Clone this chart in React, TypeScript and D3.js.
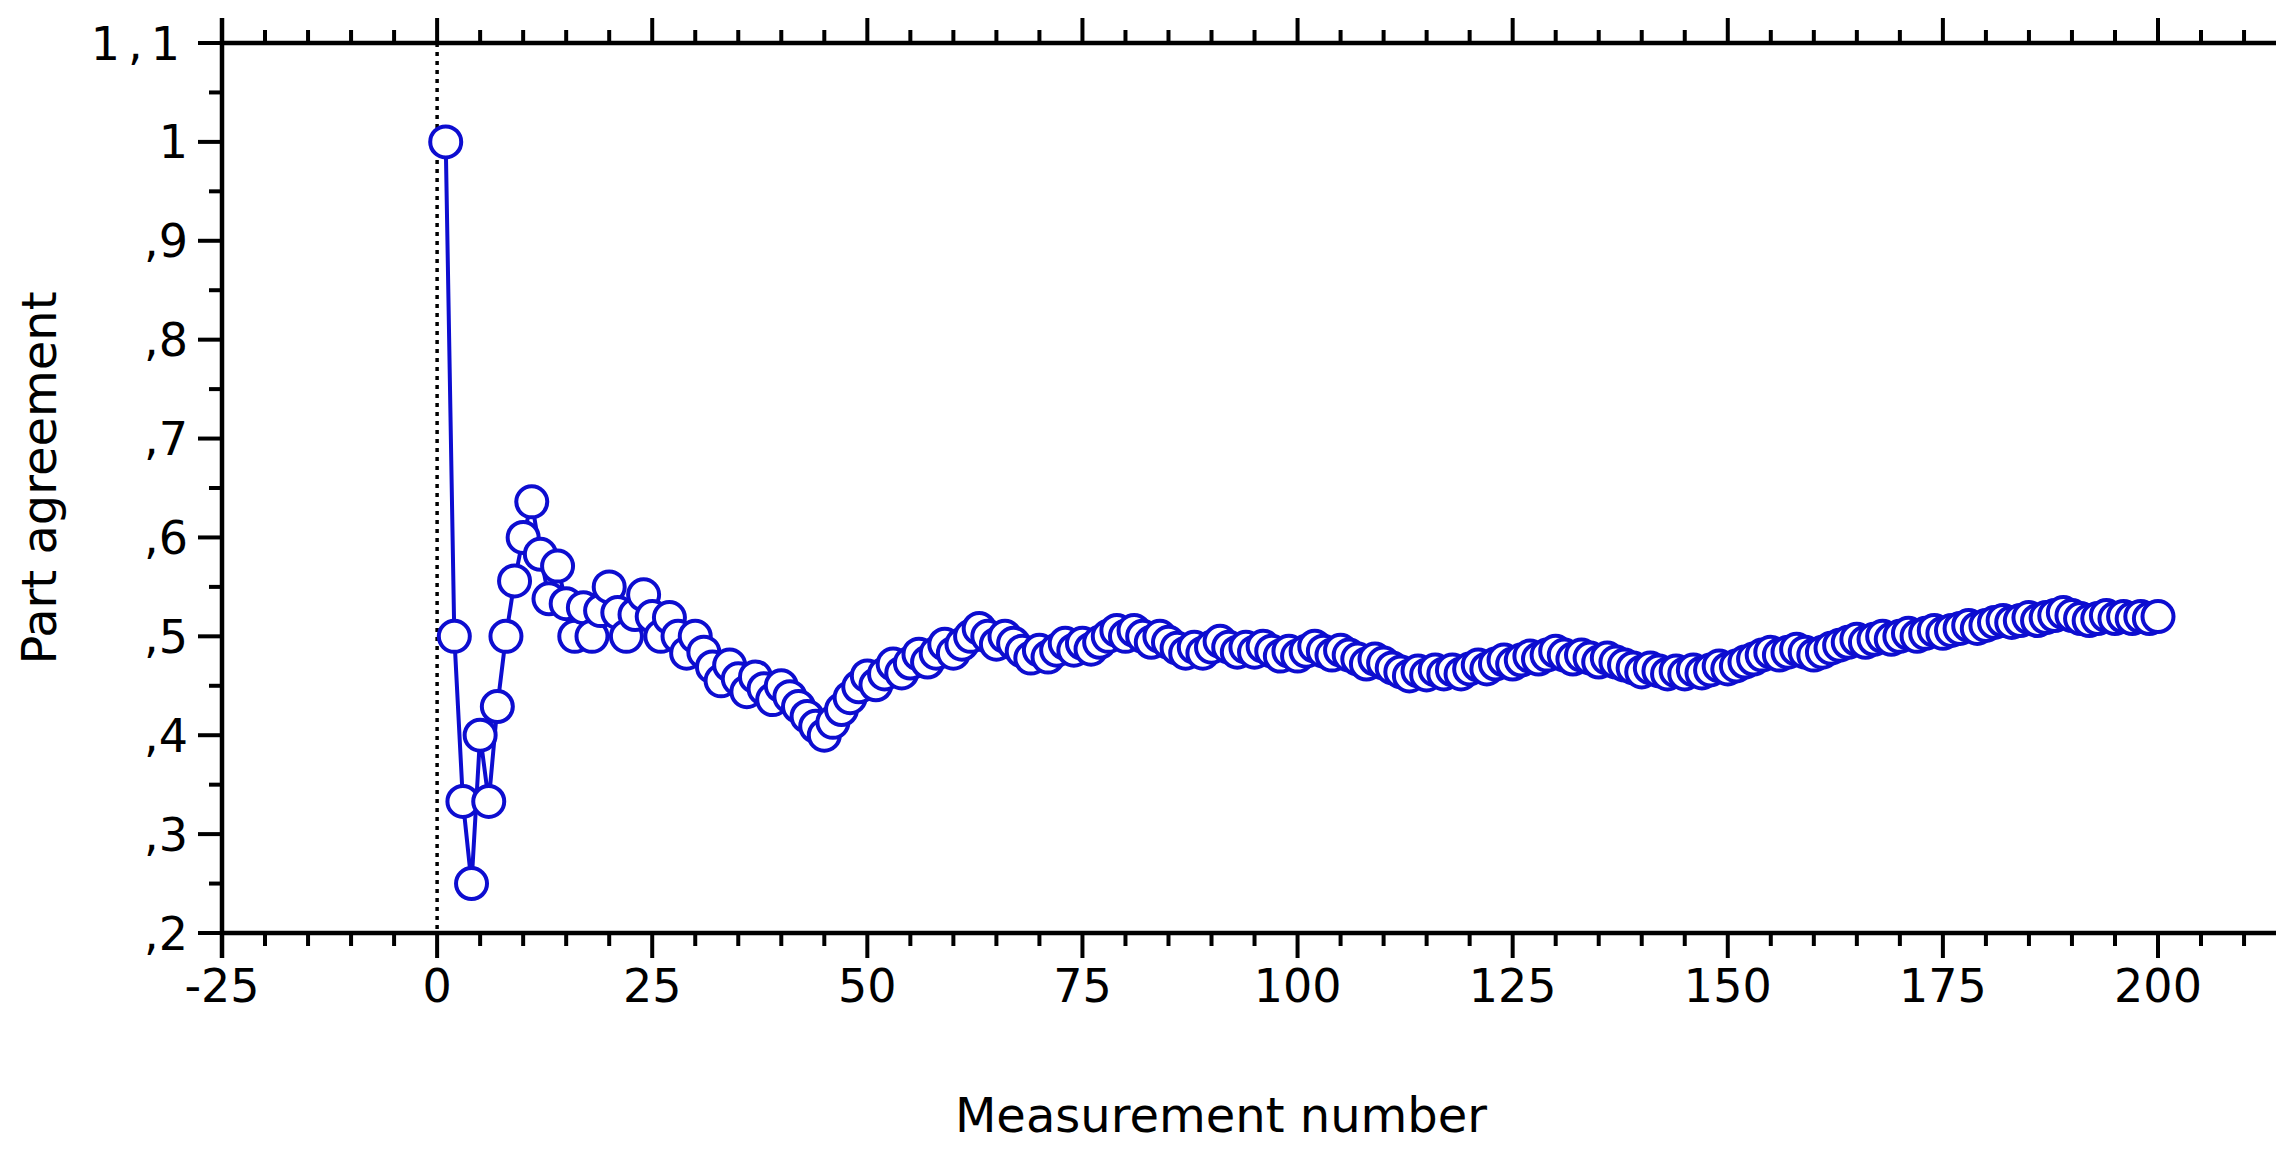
import React from 'react';
import * as d3 from 'd3';

// running part agreement per measurement (measurement 1..200)
const agreement: number[] = [
  1.0, 0.5, 0.333, 0.25, 0.4, 0.333, 0.429, 0.5, 0.556, 0.6,
  0.636, 0.583, 0.538, 0.571, 0.533, 0.5, 0.529, 0.5, 0.526, 0.55,
  0.524, 0.5, 0.522, 0.542, 0.52, 0.5, 0.519, 0.5, 0.483, 0.5,
  0.484, 0.469, 0.455, 0.471, 0.457, 0.444, 0.459, 0.447, 0.436, 0.45,
  0.439, 0.429, 0.419, 0.409, 0.4, 0.413, 0.426, 0.438, 0.449, 0.46,
  0.451, 0.462, 0.472, 0.463, 0.473, 0.482, 0.474, 0.483, 0.492, 0.483,
  0.492, 0.5, 0.508, 0.5, 0.492, 0.5, 0.493, 0.485, 0.478, 0.486,
  0.479, 0.486, 0.493, 0.486, 0.493, 0.487, 0.494, 0.5, 0.506, 0.5,
  0.506, 0.5, 0.494, 0.5, 0.494, 0.488, 0.483, 0.489, 0.483, 0.489,
  0.495, 0.489, 0.484, 0.489, 0.484, 0.49, 0.485, 0.48, 0.485, 0.48,
  0.485, 0.49, 0.485, 0.481, 0.486, 0.481, 0.477, 0.472, 0.477, 0.473,
  0.468, 0.464, 0.46, 0.465, 0.461, 0.466, 0.462, 0.466, 0.462, 0.467,
  0.471, 0.467, 0.472, 0.476, 0.472, 0.476, 0.48, 0.477, 0.481, 0.485,
  0.481, 0.477, 0.481, 0.478, 0.474, 0.478, 0.474, 0.471, 0.468, 0.464,
  0.468, 0.465, 0.462, 0.465, 0.462, 0.466, 0.463, 0.466, 0.47, 0.467,
  0.47, 0.474, 0.477, 0.481, 0.484, 0.481, 0.484, 0.487, 0.484, 0.481,
  0.484, 0.488, 0.491, 0.494, 0.497, 0.494, 0.497, 0.5, 0.497, 0.5,
  0.503, 0.5, 0.503, 0.506, 0.503, 0.506, 0.508, 0.511, 0.508, 0.511,
  0.514, 0.516, 0.514, 0.516, 0.519, 0.516, 0.519, 0.521, 0.524, 0.521,
  0.518, 0.516, 0.518, 0.521, 0.518, 0.52, 0.518, 0.52, 0.518, 0.52,
];

const xMajorTicks = [-25, 0, 25, 50, 75, 100, 125, 150, 175, 200];
const yMajorTicks = [0.2, 0.3, 0.4, 0.5, 0.6, 0.7, 0.8, 0.9, 1.0, 1.1];
const yTickLabels = [',2', ',3', ',4', ',5', ',6', ',7', ',8', ',9', '1', '1,1'];

const W = 2276;
const H = 1173;
const BLUE = '#0d0dd0';
const FONT = '"DejaVu Sans", Verdana, sans-serif';

export default function App() {
  const left = 222;
  const top = 43;
  const bottom = 933;

  const x = d3.scaleLinear().domain([-25, 200]).range([left, 2158]);
  const y = d3.scaleLinear().domain([0.2, 1.1]).range([bottom, top]);

  const points = agreement.map((v, i) => ({ n: i + 1, v }));
  const line = d3
    .line<{ n: number; v: number }>()
    .x(d => x(d.n))
    .y(d => y(d.v));

  const xMinor = d3.range(-25, 215, 5).filter(t => t % 25 !== 0);
  const yMinor = d3.range(0.25, 1.1, 0.1);

  return (
    <svg width={W} height={H} style={{ position: 'absolute', left: 0, top: 0, background: '#fff' }}>
      {/* dotted zero line */}
      <line
        x1={x(0)}
        x2={x(0)}
        y1={top}
        y2={bottom}
        stroke="#000"
        strokeWidth={3.5}
        strokeDasharray="4 5"
      />

      {/* series */}
      <path d={line(points) || ''} fill="none" stroke={BLUE} strokeWidth={4} />
      {points.map(d => (
        <circle
          key={d.n}
          cx={x(d.n)}
          cy={y(d.v)}
          r={15.5}
          fill="#fff"
          stroke={BLUE}
          strokeWidth={4}
        />
      ))}

      {/* bottom + top axes */}
      {[bottom, top].map((yy, k) => {
        const dir = k === 0 ? 1 : -1;
        return (
          <g key={k}>
            <line x1={left} x2={W} y1={yy} y2={yy} stroke="#000" strokeWidth={4.5} />
            {xMajorTicks.map(t => (
              <line key={t} x1={x(t)} x2={x(t)} y1={yy} y2={yy + dir * 25} stroke="#000" strokeWidth={4} />
            ))}
            {xMinor.map(t => (
              <line key={t} x1={x(t)} x2={x(t)} y1={yy} y2={yy + dir * 13} stroke="#000" strokeWidth={4} />
            ))}
          </g>
        );
      })}

      {/* left axis */}
      <line x1={left} x2={left} y1={top - 25} y2={bottom + 25} stroke="#000" strokeWidth={4.5} />
      {yMajorTicks.map(t => (
        <line key={t} x1={left - 24} x2={left} y1={y(t)} y2={y(t)} stroke="#000" strokeWidth={4} />
      ))}
      {yMinor.map(t => (
        <line key={t} x1={left - 13} x2={left} y1={y(t)} y2={y(t)} stroke="#000" strokeWidth={4} />
      ))}

      {/* tick labels */}
      {xMajorTicks.map(t => (
        <text key={t} x={x(t)} y={1002} textAnchor="middle" fontFamily={FONT} fontSize={46} fill="#000">
          {t < 0 ? `-${Math.abs(t)}` : t}
        </text>
      ))}
      {yMajorTicks.map((t, i) => (
        <text
          key={t}
          x={188}
          y={y(t)}
          dy="0.36em"
          textAnchor="end"
          fontFamily={FONT}
          fontSize={46}
          letterSpacing={yTickLabels[i].length > 2 ? 8 : 0}
          fill="#000"
        >
          {yTickLabels[i]}
        </text>
      ))}

      {/* axis titles */}
      <text x={1221} y={1132} textAnchor="middle" fontFamily={FONT} fontSize={48} fill="#000">
        Measurement number
      </text>
      <text
        transform={`translate(56,${(top + bottom) / 2 - 10}) rotate(-90)`}
        textAnchor="middle"
        fontFamily={FONT}
        fontSize={48}
        fill="#000"
      >
        Part agreement
      </text>
    </svg>
  );
}
